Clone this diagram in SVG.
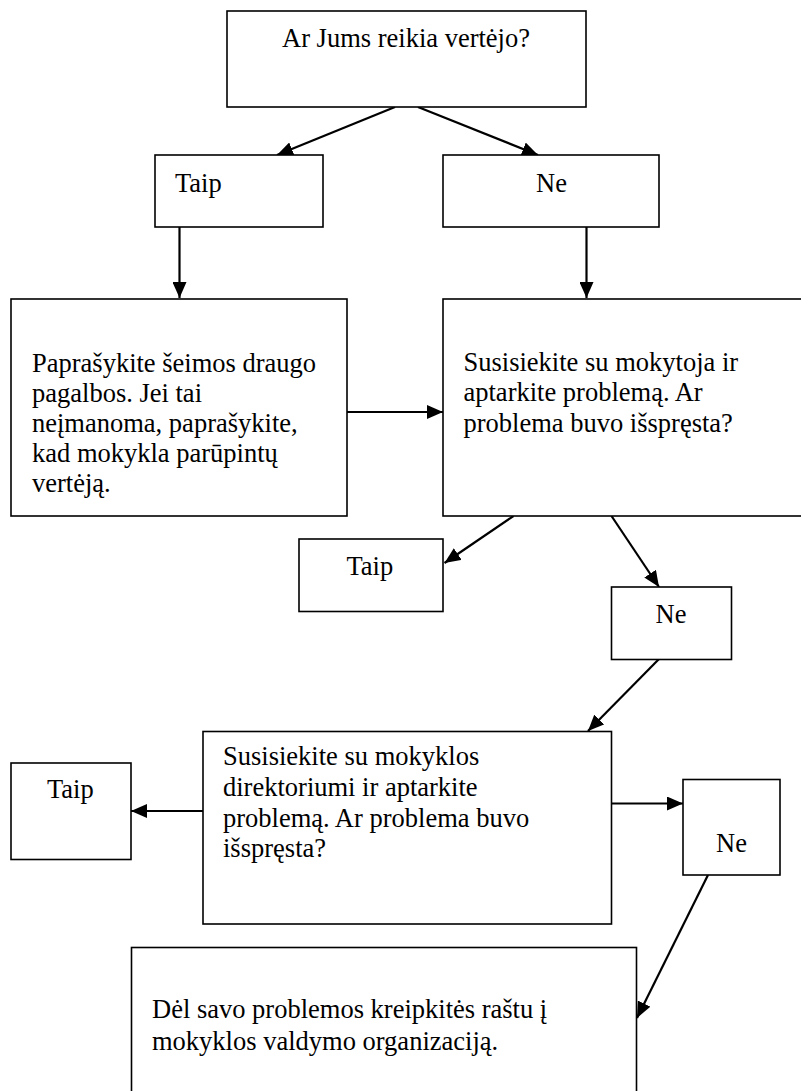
<svg xmlns="http://www.w3.org/2000/svg" width="801" height="1091" viewBox="0 0 801 1091">
<style>
.box{fill:#fff;stroke:#000;stroke-width:1.6}
.t{font-family:"Liberation Serif","Times New Roman",serif;font-size:26.5px;fill:#000}
.c{stroke:#000;stroke-width:2.2;fill:none;marker-end:url(#ah)}
</style>
<defs>
<marker id="ah" markerUnits="userSpaceOnUse" markerWidth="16" markerHeight="14" viewBox="0 0 16 14" refX="16" refY="7" orient="auto">
<path d="M0,0 L16,7 L0,14 Z" fill="#000"/>
</marker>
</defs>
<rect width="801" height="1091" fill="#fff"/>
<g id="connectors">
<line class="c" x1="395" y1="107" x2="277" y2="155"/>
<line class="c" x1="418" y1="107" x2="538" y2="155"/>
<line class="c" x1="179.5" y1="227" x2="179.5" y2="298"/>
<line class="c" x1="586.5" y1="227" x2="586.5" y2="298"/>
<line class="c" x1="347" y1="412" x2="443" y2="412"/>
<line class="c" x1="513.5" y1="516" x2="444.5" y2="563"/>
<line class="c" x1="611.5" y1="516" x2="659" y2="587"/>
<line class="c" x1="659" y1="659" x2="588" y2="731"/>
<line class="c" x1="203" y1="811" x2="131" y2="811"/>
<line class="c" x1="611.5" y1="803.5" x2="683" y2="803.5"/>
<line class="c" x1="708" y1="875" x2="637" y2="1018"/>
</g>
<g id="q1">
<rect class="box" x="227" y="11" width="359" height="96"/>
<text class="t" x="282" y="47">Ar Jums reikia vertėjo?</text>
</g>
<g id="taip1">
<rect class="box" x="155" y="155" width="168" height="72"/>
<text class="t" x="175" y="192">Taip</text>
</g>
<g id="ne1">
<rect class="box" x="443" y="155" width="216" height="72"/>
<text class="t" x="536" y="192">Ne</text>
</g>
<g id="ask-friend">
<rect class="box" x="11" y="299" width="336" height="217"/>
<text class="t" x="32" y="372">Paprašykite šeimos draugo</text>
<text class="t" x="32" y="402">pagalbos. Jei tai</text>
<text class="t" x="32" y="432">neįmanoma, paprašykite,</text>
<text class="t" x="32" y="462">kad mokykla parūpintų</text>
<text class="t" x="32" y="492">vertėją.</text>
</g>
<g id="teacher">
<rect class="box" x="443" y="299" width="365" height="217"/>
<text class="t" x="463.5" y="371">Susisiekite su mokytoja ir</text>
<text class="t" x="463.5" y="401">aptarkite problemą. Ar</text>
<text class="t" x="463.5" y="432">problema buvo išspręsta?</text>
</g>
<g id="taip2">
<rect class="box" x="299" y="539" width="144" height="72.5"/>
<text class="t" x="346.5" y="575">Taip</text>
</g>
<g id="ne2">
<rect class="box" x="611.5" y="587" width="120" height="72.5"/>
<text class="t" x="655.5" y="623">Ne</text>
</g>
<g id="director">
<rect class="box" x="203" y="731.5" width="408.5" height="192.5"/>
<text class="t" x="223" y="765">Susisiekite su mokyklos</text>
<text class="t" x="223" y="796">direktoriumi ir aptarkite</text>
<text class="t" x="223" y="827">problemą. Ar problema buvo</text>
<text class="t" x="223" y="857">išspręsta?</text>
</g>
<g id="taip3">
<rect class="box" x="11" y="763" width="120" height="96.5"/>
<text class="t" x="47" y="798">Taip</text>
</g>
<g id="ne3">
<rect class="box" x="683" y="779.5" width="97" height="95.5"/>
<text class="t" x="716" y="852">Ne</text>
</g>
<g id="written">
<rect class="box" x="131.5" y="947.5" width="505" height="160"/>
<text class="t" x="152" y="1018">Dėl savo problemos kreipkitės raštu į</text>
<text class="t" x="152" y="1050">mokyklos valdymo organizaciją.</text>
</g>
</svg>
